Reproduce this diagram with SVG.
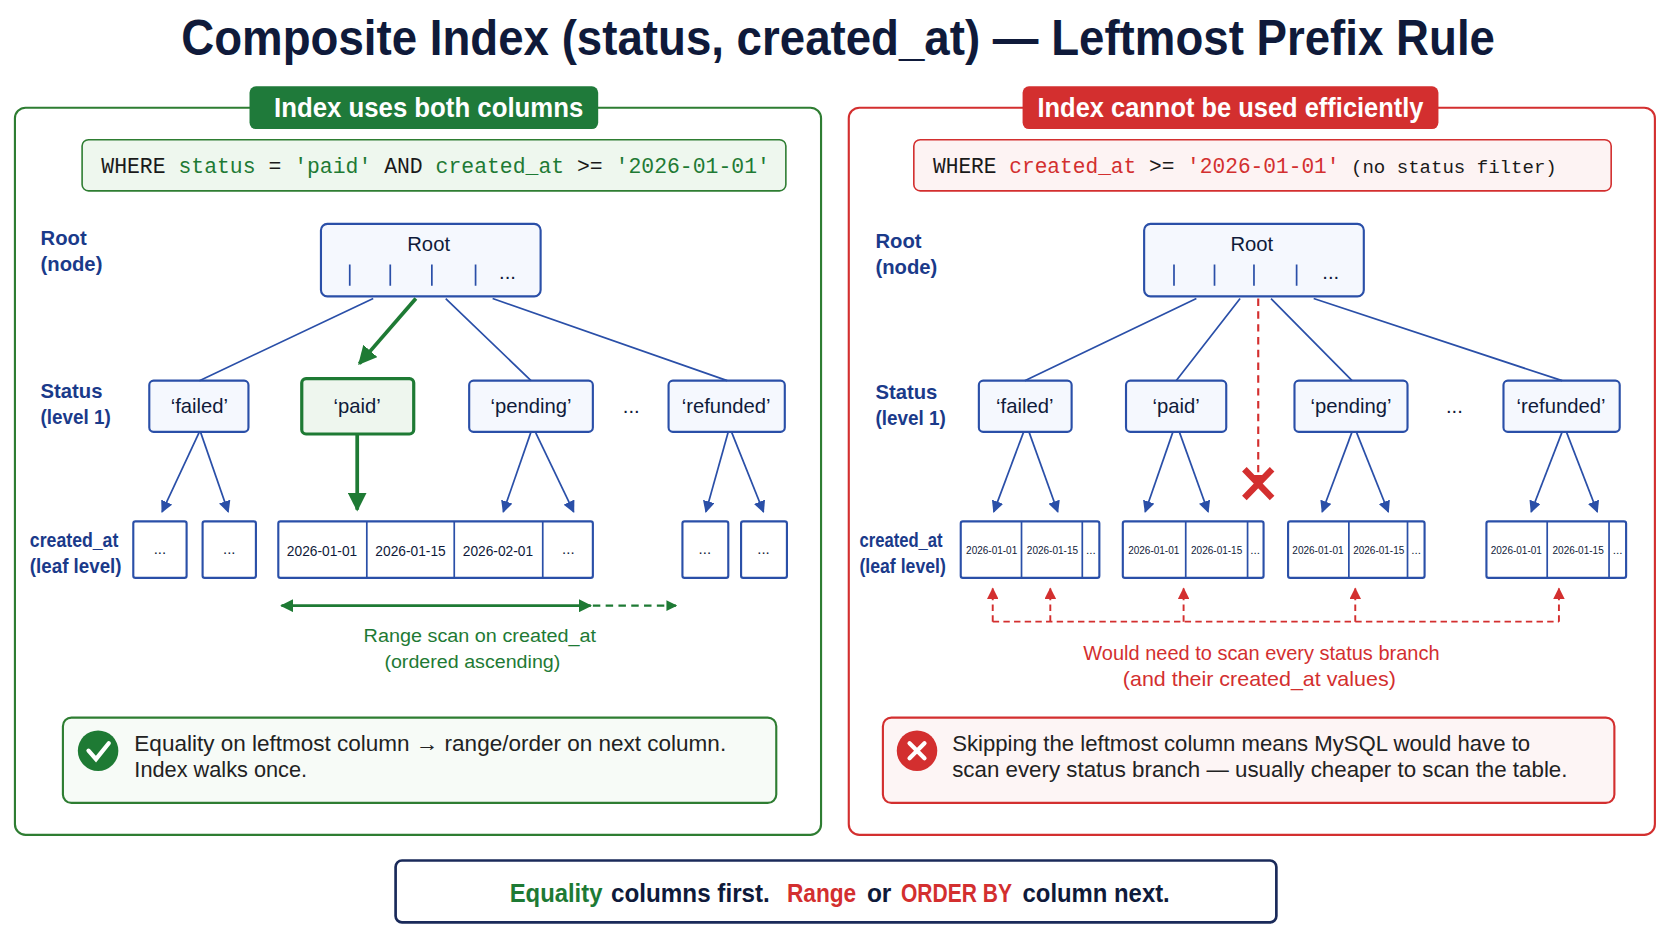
<svg xmlns="http://www.w3.org/2000/svg" width="1672" height="941" viewBox="0 0 1672 941">
<style>
text{font-family:"Liberation Sans",Arial,sans-serif}
.lbl{fill:#1a3a8a;font-size:19px;font-weight:bold}
.node{fill:#f5f8fe;stroke:#2a4fa8;stroke-width:2}
.nt{fill:#0f1a3a;font-size:19px;text-anchor:middle}
.ln{stroke:#2a4fa8;stroke-width:1.6;fill:none}
.lf{fill:#fff;stroke:#2a4fa8;stroke-width:2}
.dv{stroke:#2a4fa8;stroke-width:1.6}
.lt{fill:#0f1a3a;font-size:14px;text-anchor:middle}
.st{fill:#0f1a3a;font-size:11px;text-anchor:middle}
.mono{font-family:"Liberation Mono",monospace}
.ft{font-size:25px;font-weight:bold;fill:#0f1a3a}
.g{fill:#1e7a34}.r{fill:#d32f2f}.k{fill:#1a1a1a}
</style>
<defs>
<marker id="ab" viewBox="0 0 10 10" refX="9" refY="5" markerWidth="7" markerHeight="7" orient="auto-start-reverse"><path d="M0,0L10,5L0,10z" fill="#2a4fa8"/></marker>
<marker id="ag" viewBox="0 0 10 10" refX="9" refY="5" markerWidth="5" markerHeight="5" orient="auto-start-reverse"><path d="M0,0L10,5L0,10z" fill="#1e7a34"/></marker>
<marker id="ar" viewBox="0 0 10 10" refX="9" refY="5" markerWidth="6" markerHeight="6" orient="auto-start-reverse"><path d="M0,0L10,5L0,10z" fill="#d32f2f"/></marker>
</defs>
<rect width="1672" height="941" fill="#fff"/>
<g transform="scale(1.0663)">
<text x="786" y="52" text-anchor="middle" font-size="46" font-weight="bold" fill="#0f1a3a" textLength="1232" lengthAdjust="spacingAndGlyphs">Composite Index (status, created_at) — Leftmost Prefix Rule</text>

<g id="left-panel">
<rect x="14" y="101" width="756" height="682" rx="10" fill="none" stroke="#2e7d32" stroke-width="2"/>
<rect x="234" y="81" width="327" height="40" rx="6" fill="#1f7a3a"/>
<text x="402" y="110" text-anchor="middle" font-size="26" font-weight="bold" fill="#fff" textLength="290" lengthAdjust="spacingAndGlyphs">Index uses both columns</text>
<rect x="77" y="131" width="660" height="48" rx="6" fill="#eef7ee" stroke="#2e7d32" stroke-width="1.5"/>
<text x="95" y="162" font-size="20" class="mono" textLength="627" lengthAdjust="spacingAndGlyphs"><tspan class="k">WHERE </tspan><tspan class="g">status</tspan><tspan class="k"> = </tspan><tspan class="g">'paid'</tspan><tspan class="k"> AND </tspan><tspan class="g">created_at</tspan><tspan class="k"> &gt;= </tspan><tspan class="g">'2026-01-01'</tspan></text>
<text class="lbl" x="38" y="230">Root</text><text class="lbl" x="38" y="254">(node)</text>
<text class="lbl" x="38" y="373">Status</text><text class="lbl" x="38" y="398" textLength="66" lengthAdjust="spacingAndGlyphs">(level 1)</text>
<text class="lbl" x="28" y="513" font-size="18" textLength="83" lengthAdjust="spacingAndGlyphs">created_at</text><text class="lbl" x="28" y="537" font-size="18" textLength="86" lengthAdjust="spacingAndGlyphs">(leaf level)</text>
</g>
<g id="l-root"><rect class="node" x="301" y="210" width="206" height="68" rx="6"/><text class="nt" x="402" y="235">Root</text>
<path class="dv" d="M328,248V268M366,248V268M405,248V268M446,248V268"/><text class="nt" x="476" y="262">...</text></g>
<g id="l-failed"><rect class="node" x="140" y="357" width="93" height="48" rx="4"/><text class="nt" x="187" y="387">‘failed’</text></g>
<g id="l-paid"><rect x="283" y="355" width="105" height="52" rx="4" fill="#eef6ee" stroke="#1e7a34" stroke-width="3"/><text class="nt" x="335" y="387">‘paid’</text></g>
<g id="l-pending"><rect class="node" x="440" y="357" width="116" height="48" rx="4"/><text class="nt" x="498" y="387">‘pending’</text></g>
<text class="nt" x="592" y="387">...</text>
<g id="l-refunded"><rect class="node" x="627" y="357" width="109" height="48" rx="4"/><text class="nt" x="681" y="387">‘refunded’</text></g>
<g id="l-leaves">
<rect class="lf" x="125" y="489" width="50" height="53" rx="2"/><text class="lt" x="150" y="520">...</text>
<rect class="lf" x="190" y="489" width="50" height="53" rx="2"/><text class="lt" x="215" y="520">...</text>
<rect class="lf" x="261" y="489" width="295" height="53" rx="2"/><path class="dv" d="M344,489V542M426,489V542M509,489V542"/>
<text class="lt" x="302" y="521" textLength="66" lengthAdjust="spacingAndGlyphs">2026-01-01</text><text class="lt" x="385" y="521" textLength="66" lengthAdjust="spacingAndGlyphs">2026-01-15</text><text class="lt" x="467" y="521" textLength="66" lengthAdjust="spacingAndGlyphs">2026-02-01</text><text class="lt" x="533" y="520">...</text>
<rect class="lf" x="640" y="489" width="43" height="53" rx="2"/><text class="lt" x="661" y="520">...</text>
<rect class="lf" x="695" y="489" width="43" height="53" rx="2"/><text class="lt" x="716" y="520">...</text>
</g>
<g id="l-connectors">
<path class="ln" d="M350,280L187,357M418,280L498,357M462,280L682,357"/>
<path d="M390,280L337,341" stroke="#1e7a34" stroke-width="3.5" fill="none" marker-end="url(#ag)"/>
<path d="M335,407V478" stroke="#1e7a34" stroke-width="3.5" fill="none" marker-end="url(#ag)"/>
<path class="ln" marker-end="url(#ab)" d="M187,405L152,480"/><path class="ln" marker-end="url(#ab)" d="M188,405L214,480"/>
<path class="ln" marker-end="url(#ab)" d="M498,405L472,480"/><path class="ln" marker-end="url(#ab)" d="M502,405L538,480"/>
<path class="ln" marker-end="url(#ab)" d="M683,405L662,480"/><path class="ln" marker-end="url(#ab)" d="M686,405L716,480"/>
<path d="M264,568H554" stroke="#1e7a34" stroke-width="2.5" marker-start="url(#ag)" marker-end="url(#ag)"/>
<path d="M556,568H634" stroke="#1e7a34" stroke-width="2" stroke-dasharray="7,5" marker-end="url(#ag)"/>
</g>
<text x="450" y="602" text-anchor="middle" font-size="18" class="g" textLength="218" lengthAdjust="spacingAndGlyphs">Range scan on created_at</text>
<text x="443" y="626" text-anchor="middle" font-size="18" class="g" textLength="165" lengthAdjust="spacingAndGlyphs">(ordered ascending)</text>
<g id="l-note"><rect x="59" y="673" width="669" height="80" rx="8" fill="#f7fbf7" stroke="#2e7d32" stroke-width="2"/>
<circle cx="92" cy="704" r="19" fill="#1e7a34"/><path d="M83,704L90,712L102,697" stroke="#fff" stroke-width="4" fill="none" stroke-linecap="round"/>
<text x="126" y="704" font-size="20" fill="#222" textLength="555" lengthAdjust="spacingAndGlyphs">Equality on leftmost column → range/order on next column.</text>
<text x="126" y="729" font-size="20" fill="#222" textLength="162" lengthAdjust="spacingAndGlyphs">Index walks once.</text></g>

<g id="right-panel">
<rect x="796" y="101" width="756" height="682" rx="10" fill="none" stroke="#d32f2f" stroke-width="2"/>
<rect x="959" y="81" width="390" height="40" rx="6" fill="#d32f2f"/>
<text x="1154" y="110" text-anchor="middle" font-size="26" font-weight="bold" fill="#fff" textLength="362" lengthAdjust="spacingAndGlyphs">Index cannot be used efficiently</text>
<rect x="857" y="131" width="654" height="48" rx="6" fill="#fdf3f3" stroke="#d32f2f" stroke-width="1.5"/>
<text x="875" y="162" font-size="20" class="mono" textLength="585" lengthAdjust="spacingAndGlyphs"><tspan class="k">WHERE </tspan><tspan class="r">created_at</tspan><tspan class="k"> &gt;= </tspan><tspan class="r">'2026-01-01'</tspan><tspan class="k" font-size="18"> (no status filter)</tspan></text>
<text class="lbl" x="821" y="233">Root</text><text class="lbl" x="821" y="257">(node)</text>
<text class="lbl" x="821" y="374">Status</text><text class="lbl" x="821" y="399" textLength="66" lengthAdjust="spacingAndGlyphs">(level 1)</text>
<text class="lbl" x="806" y="513" font-size="18" textLength="78" lengthAdjust="spacingAndGlyphs">created_at</text><text class="lbl" x="806" y="537" font-size="18" textLength="81" lengthAdjust="spacingAndGlyphs">(leaf level)</text>
</g>
<g id="r-root"><rect class="node" x="1073" y="210" width="206" height="68" rx="6"/><text class="nt" x="1174" y="235">Root</text>
<path class="dv" d="M1101,248V268M1139,248V268M1176,248V268M1216,248V268"/><text class="nt" x="1248" y="262">...</text></g>
<g id="r-failed"><rect class="node" x="918" y="357" width="87" height="48" rx="4"/><text class="nt" x="961" y="387">‘failed’</text></g>
<g id="r-paid"><rect class="node" x="1056" y="357" width="94" height="48" rx="4"/><text class="nt" x="1103" y="387">‘paid’</text></g>
<g id="r-pending"><rect class="node" x="1214" y="357" width="106" height="48" rx="4"/><text class="nt" x="1267" y="387">‘pending’</text></g>
<text class="nt" x="1364" y="387">...</text>
<g id="r-refunded"><rect class="node" x="1410" y="357" width="109" height="48" rx="4"/><text class="nt" x="1464" y="387">‘refunded’</text></g>
<g id="r-leaves">
<rect class="lf" x="901" y="489" width="130" height="53" rx="2"/><path class="dv" d="M958,489V542M1015,489V542"/>
<text class="st" x="930" y="520" textLength="48" lengthAdjust="spacingAndGlyphs">2026-01-01</text><text class="st" x="987" y="520" textLength="48" lengthAdjust="spacingAndGlyphs">2026-01-15</text><text class="st" x="1023" y="520">...</text>
<rect class="lf" x="1053" y="489" width="132" height="53" rx="2"/><path class="dv" d="M1112,489V542M1170,489V542"/>
<text class="st" x="1082" y="520" textLength="48" lengthAdjust="spacingAndGlyphs">2026-01-01</text><text class="st" x="1141" y="520" textLength="48" lengthAdjust="spacingAndGlyphs">2026-01-15</text><text class="st" x="1177" y="520">...</text>
<rect class="lf" x="1208" y="489" width="128" height="53" rx="2"/><path class="dv" d="M1265,489V542M1320,489V542"/>
<text class="st" x="1236" y="520" textLength="48" lengthAdjust="spacingAndGlyphs">2026-01-01</text><text class="st" x="1293" y="520" textLength="48" lengthAdjust="spacingAndGlyphs">2026-01-15</text><text class="st" x="1328" y="520">...</text>
<rect class="lf" x="1394" y="489" width="131" height="53" rx="2"/><path class="dv" d="M1451,489V542M1509,489V542"/>
<text class="st" x="1422" y="520" textLength="48" lengthAdjust="spacingAndGlyphs">2026-01-01</text><text class="st" x="1480" y="520" textLength="48" lengthAdjust="spacingAndGlyphs">2026-01-15</text><text class="st" x="1517" y="520">...</text>
</g>
<g id="r-connectors">
<path class="ln" d="M1122,280L961,357M1163,280L1103,357M1192,280L1268,357M1232,280L1465,357"/>
<path d="M1180,280V456" stroke="#d32f2f" stroke-width="2" stroke-dasharray="7,5" fill="none" marker-end="url(#ar)"/>
<path d="M1167,440L1193,467M1193,440L1167,467" stroke="#d32f2f" stroke-width="6"/>
<path class="ln" marker-end="url(#ab)" d="M960,405L932,480"/><path class="ln" marker-end="url(#ab)" d="M965,405L992,480"/>
<path class="ln" marker-end="url(#ab)" d="M1100,405L1074,480"/><path class="ln" marker-end="url(#ab)" d="M1106,405L1133,480"/>
<path class="ln" marker-end="url(#ab)" d="M1268,405L1240,480"/><path class="ln" marker-end="url(#ab)" d="M1272,405L1302,480"/>
<path class="ln" marker-end="url(#ab)" d="M1465,405L1436,480"/><path class="ln" marker-end="url(#ab)" d="M1469,405L1498,480"/>
<g stroke="#d32f2f" stroke-width="1.8" stroke-dasharray="6,4" fill="none">
<path d="M931,583H1462"/>
<path d="M931,583V552" marker-end="url(#ar)"/><path d="M985,583V552" marker-end="url(#ar)"/><path d="M1110,583V552" marker-end="url(#ar)"/><path d="M1271,583V552" marker-end="url(#ar)"/><path d="M1462,583V552" marker-end="url(#ar)"/>
</g>
</g>
<text x="1183" y="619" text-anchor="middle" font-size="19" class="r" textLength="334" lengthAdjust="spacingAndGlyphs">Would need to scan every status branch</text>
<text x="1181" y="643" text-anchor="middle" font-size="19" class="r" textLength="256" lengthAdjust="spacingAndGlyphs">(and their created_at values)</text>
<g id="r-note"><rect x="828" y="673" width="686" height="80" rx="8" fill="#fdf5f5" stroke="#d32f2f" stroke-width="2"/>
<circle cx="860" cy="704" r="19" fill="#d32f2f"/><path d="M853,697L867,711M867,697L853,711" stroke="#fff" stroke-width="4" stroke-linecap="round"/>
<text x="893" y="704" font-size="20" fill="#222" textLength="542" lengthAdjust="spacingAndGlyphs">Skipping the leftmost column means MySQL would have to</text>
<text x="893" y="729" font-size="20" fill="#222" textLength="577" lengthAdjust="spacingAndGlyphs">scan every status branch — usually cheaper to scan the table.</text></g>

<g id="footer"><rect x="371" y="807" width="826" height="58" rx="6" fill="#fff" stroke="#1a2a5a" stroke-width="2.5"/>
<text class="ft g" x="478" y="846" textLength="87" lengthAdjust="spacingAndGlyphs">Equality</text>
<text class="ft" x="573" y="846" textLength="149" lengthAdjust="spacingAndGlyphs">columns first.</text>
<text class="ft r" x="738" y="846" textLength="65" lengthAdjust="spacingAndGlyphs">Range</text>
<text class="ft" x="813" y="846" textLength="23" lengthAdjust="spacingAndGlyphs">or</text>
<text class="ft r" x="845" y="846" textLength="104" lengthAdjust="spacingAndGlyphs">ORDER BY</text>
<text class="ft" x="959" y="846" textLength="138" lengthAdjust="spacingAndGlyphs">column next.</text></g>
</g>
</svg>
